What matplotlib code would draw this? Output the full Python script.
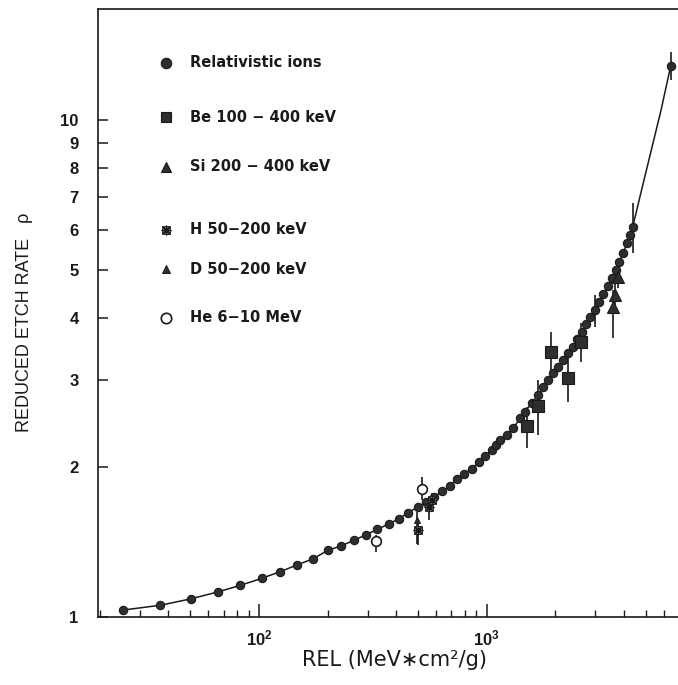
import matplotlib
matplotlib.use("Agg")
import matplotlib.pyplot as plt
from matplotlib.ticker import FixedLocator, FixedFormatter, LogLocator, NullFormatter, NullLocator

# ---------------- data ----------------
rel_x = [25.4, 36.9, 50.3, 65.9, 82.8, 102.8, 124, 147, 173, 200, 229, 261, 295, 331,
         371, 412, 453, 499, 541, 587, 638, 688, 741, 797, 859, 922, 983, 1050, 1095,
         1144, 1224, 1309, 1400, 1473, 1576, 1685, 1773, 1865, 1961, 2063, 2170, 2282,
         2401, 2493, 2614, 2730, 2843, 2989, 3123, 3252, 3420, 3540, 3698, 3822, 3981,
         4120, 4260, 4378, 6430]
rel_y = [1.033, 1.056, 1.088, 1.123, 1.158, 1.196, 1.234, 1.273, 1.310, 1.361, 1.390,
         1.426, 1.464, 1.501, 1.539, 1.577, 1.622, 1.665, 1.704, 1.746, 1.790, 1.835,
         1.896, 1.940, 1.989, 2.048, 2.106, 2.168, 2.220, 2.270, 2.324, 2.397, 2.511,
         2.589, 2.692, 2.797, 2.907, 2.999, 3.093, 3.189, 3.289, 3.393, 3.499, 3.626,
         3.750, 3.886, 4.009, 4.147, 4.310, 4.460, 4.635, 4.803, 4.991, 5.187, 5.392,
         5.648, 5.870, 6.100, 12.86]
# relativistic points carrying error bars
rel_err_x = [2989, 4378, 6430]
rel_err_y = [4.147, 6.100, 12.86]
rel_err_lo = [3.84, 5.40, 12.04]
rel_err_hi = [4.45, 6.81, 13.73]

# fitted curve (through the points and on to the last one)
fit_tail_x = [4809, 5305, 5830, 6430]
fit_tail_y = [7.29, 8.77, 10.47, 12.86]

be_x = [1498, 1675, 1910, 2268, 2587]
be_y = [2.423, 2.662, 3.419, 3.022, 3.580]
be_lo = [2.185, 2.324, 3.140, 2.710, 3.260]
be_hi = [2.650, 3.000, 3.750, 3.350, 3.900]

si_x = [3785, 3660, 3597]
si_y = [4.838, 4.446, 4.210]
si_lo = [4.60, 4.20, 3.638]
si_hi = [5.10, 4.70, 4.550]

h_x = [501, 560, 577]
h_y = [1.496, 1.667, 1.720]
h_lo = [1.396, 1.567, 1.660]
h_hi = [1.567, 1.736, 1.780]

d_x = [493]
d_y = [1.567]
d_lo = [1.40]
d_hi = [1.63]

he_x = [326, 518]
he_y = [1.424, 1.810]
he_lo = [1.353, 1.720]
he_hi = [1.462, 1.910]

ytick_vals = [1, 2, 3, 4, 5, 6, 7, 8, 9, 10]
ytick_labels = ["1", "2", "3", "4", "5", "6", "7", "8", "9", "10"]
xtick_vals = [100, 1000]
xtick_labels = ["$10^{2}$", "$10^{3}$"]

legend_labels = ["Relativistic ions", "Be 100 \u2212 400 keV", "Si 200 \u2212 400 keV",
                 "H 50\u2212200 keV", "D 50\u2212200 keV", "He 6\u221210 MeV"]

# ---------------- styling ----------------
plt.rcParams["mathtext.fontset"] = "custom"
plt.rcParams["mathtext.rm"] = "Liberation Sans:bold"
plt.rcParams["mathtext.it"] = "Liberation Sans:bold"
plt.rcParams["mathtext.bf"] = "Liberation Sans:bold"

INK = "#1a1a1a"
FILL = "#2e2e2e"

W, H = 678, 685
fig = plt.figure(figsize=(W / 100, H / 100), dpi=100)
ax_left, ax_bottom, ax_right, ax_top = 98, 617, 714.4, 9
ax = fig.add_axes([ax_left / W, (H - ax_bottom) / H, (ax_right - ax_left) / W, (ax_bottom - ax_top) / H])
ax.set_xscale("log")
ax.set_yscale("log")
ax.set_xlim(19.63, 1e4)
ax.set_ylim(1, 16.73)

for s in ax.spines.values():
    s.set_linewidth(1.2)
    s.set_color(INK)

# curve
curve_x = rel_x[:-1] + fit_tail_x
curve_y = rel_y[:-1] + fit_tail_y
ax.plot(curve_x, curve_y, color=INK, lw=1.1, zorder=2)


def ebars(xs, ys, lo, hi, z=1.5):
    ax.vlines(xs, lo, hi, color=INK, lw=1.2, zorder=z)


ebars(rel_err_x, rel_err_y, rel_err_lo, rel_err_hi)
ebars(be_x, be_y, be_lo, be_hi)
ebars(si_x, si_y, si_lo, si_hi)
ebars(h_x, h_y, h_lo, h_hi)
ebars(d_x, d_y, d_lo, d_hi)
ebars(he_x, he_y, he_lo, he_hi)

ax.plot(rel_x, rel_y, "o", ms=6, mfc=FILL, mec=INK, mew=0.8, ls="none", zorder=3)
ax.plot(be_x, be_y, "s", ms=8, mfc=FILL, mec=INK, mew=0.8, ls="none", zorder=4)
ax.plot(si_x, si_y, "^", ms=8, mfc=FILL, mec=INK, mew=0.8, ls="none", zorder=4)
ax.plot(h_x, h_y, "s", ms=5.5, mfc="#8a8a8a", mec=INK, mew=0.6, ls="none", zorder=4)
ax.plot(h_x, h_y, marker=(8, 2, 0), ms=7, mec=INK, mew=0.9, ls="none", zorder=4)
ax.plot(d_x, d_y, "^", ms=5, mfc=FILL, mec=INK, mew=0.7, ls="none", zorder=4)
ax.plot(he_x, he_y, "o", ms=7, mfc="white", mec=INK, mew=1.2, ls="none", zorder=4)

# ticks
ax.yaxis.set_major_locator(FixedLocator(ytick_vals))
ax.yaxis.set_major_formatter(FixedFormatter(ytick_labels))
ax.yaxis.set_minor_locator(NullLocator())
ax.xaxis.set_major_locator(FixedLocator(xtick_vals))
ax.xaxis.set_major_formatter(FixedFormatter(xtick_labels))
ax.xaxis.set_minor_locator(LogLocator(base=10, subs=[2, 3, 4, 5, 6, 7, 8, 9], numticks=20))
ax.xaxis.set_minor_formatter(NullFormatter())

ax.tick_params(axis="y", which="major", direction="in", length=7, width=1.1, pad=14,
               left=True, right=False, colors=INK, labelsize=12)
ax.tick_params(axis="x", which="major", direction="in", length=9.5, width=1.1, pad=9,
               bottom=True, top=False, colors=INK, labelsize=12)
ax.tick_params(axis="x", which="minor", direction="in", length=5, width=1.0,
               bottom=True, top=False, colors=INK)
for lab in ax.get_yticklabels():
    lab.set_fontfamily("Liberation Sans")
    lab.set_fontweight("bold")

# axis labels
fig.text(25 / W, 1 - 322 / H, "REDUCED ETCH RATE   \u03c1", rotation=90, ha="center", va="center",
         family="Liberation Sans", fontsize=13, color=INK)
fig.text(394 / W, 1 - 660 / H, "REL (MeV\u2217cm\u00b2/g)", ha="center", va="center",
         family="DejaVu Sans", fontsize=15, color=INK)

# legend (manual, as in the original)
leg_rows_px = [62.7, 117.3, 166.7, 230, 269, 318]
leg_marker_px = 166
leg_text_px = 190
leg_styles = [
    dict(marker="o", ms=7.5, mfc=FILL, mec=INK, mew=0.8),
    dict(marker="s", ms=7.5, mfc=FILL, mec=INK, mew=0.8),
    dict(marker="^", ms=7.5, mfc=FILL, mec=INK, mew=0.8),
    dict(marker="s", ms=6, mfc="#8a8a8a", mec=INK, mew=0.6),
    dict(marker="^", ms=5.5, mfc=FILL, mec=INK, mew=0.7),
    dict(marker="o", ms=7.5, mfc="white", mec=INK, mew=1.2),
]
for row, lab, st in zip(leg_rows_px, legend_labels, leg_styles):
    fy = 1 - row / H
    fig.lines.append(plt.Line2D([leg_marker_px / W], [fy], ls="none", transform=fig.transFigure, **st))
    fig.text(leg_text_px / W, fy, lab, ha="left", va="center", family="DejaVu Sans",
             fontweight="bold", fontsize=10.5, color=INK)
# asterisk overlay for the H legend marker
fig.lines.append(plt.Line2D([leg_marker_px / W], [1 - leg_rows_px[3] / H], ls="none",
                            marker=(8, 2, 0), ms=7, mec=INK, mew=0.9, transform=fig.transFigure))

fig.savefig("out.png", dpi=100, facecolor="white")
